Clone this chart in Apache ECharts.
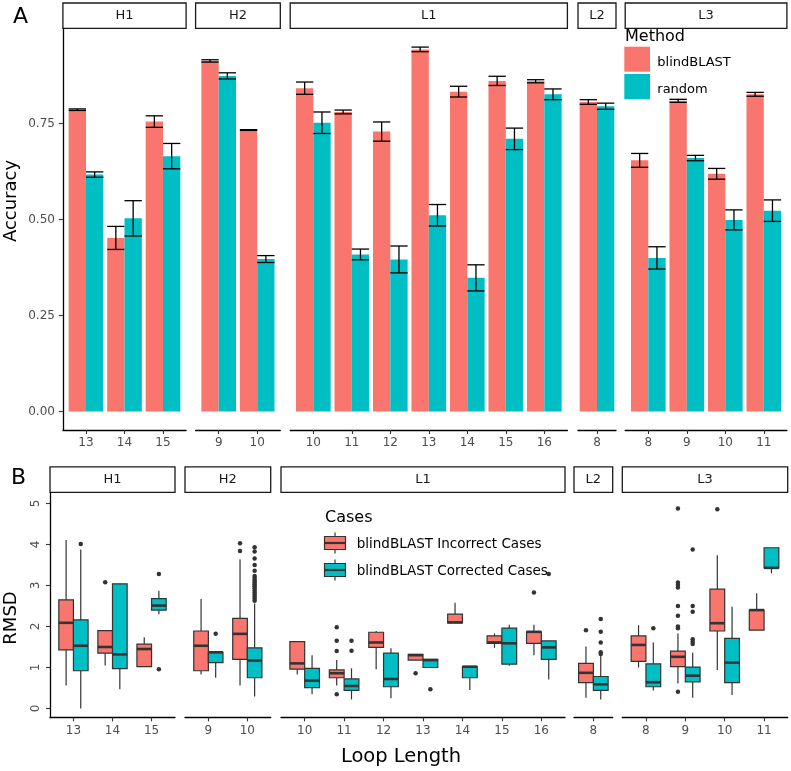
<!DOCTYPE html>
<html><head><meta charset="utf-8">
<script src="https://cdn.jsdelivr.net/npm/echarts@6/dist/echarts.min.js"></script>
<style>html,body{margin:0;padding:0;background:#fff}#c{width:791px;height:771px}</style>
</head><body><div id="c"></div>
<script>
// ---------- categories ----------
const facetNames = ['H1', 'H2', 'L1', 'L2', 'L3'];
const catsH1 = ['13', '14', '15'];
const catsH2 = ['9', '10'];
const catsL1 = ['10', '11', '12', '13', '14', '15', '16'];
const catsL2 = ['8'];
const catsL3 = ['8', '9', '10', '11'];

// ---------- panel A: accuracy (mean, error) ----------
const blindH1 = [0.786, 0.452, 0.755];  const blindH1Err = [0.002, 0.030, 0.015];
const randomH1 = [0.617, 0.503, 0.665]; const randomH1Err = [0.007, 0.046, 0.033];
const blindH2 = [0.913, 0.733];         const blindH2Err = [0.003, 0.001];
const randomH2 = [0.874, 0.397];        const randomH2Err = [0.008, 0.009];
const blindL1 = [0.842, 0.780, 0.729, 0.943, 0.833, 0.861, 0.860];
const blindL1Err = [0.016, 0.005, 0.025, 0.006, 0.014, 0.012, 0.004];
const randomL1 = [0.752, 0.409, 0.396, 0.511, 0.348, 0.710, 0.826];
const randomL1Err = [0.028, 0.014, 0.035, 0.028, 0.034, 0.028, 0.014];
const blindL2 = [0.806];  const blindL2Err = [0.006];
const randomL2 = [0.795]; const randomL2Err = [0.008];
const blindL3 = [0.654, 0.809, 0.619, 0.826];  const blindL3Err = [0.018, 0.004, 0.014, 0.005];
const randomL3 = [0.400, 0.660, 0.499, 0.523]; const randomL3Err = [0.029, 0.007, 0.026, 0.028];
const accTicks = [0, 0.25, 0.5, 0.75];

// ---------- panel B: RMSD boxplots [whiskerLow, q1, median, q3, whiskerHigh] ----------
const incH1 = [[0.56,1.43,2.09,2.65,4.11],[1.05,1.35,1.50,1.90,1.90],[1.02,1.02,1.45,1.57,1.74]];
const corH1 = [[0.00,0.92,1.53,2.16,3.88],[0.47,0.97,1.32,3.04,3.04],[2.30,2.40,2.51,2.68,2.87]];
const incH2 = [[0.83,0.92,1.53,1.89,2.67],[0.56,1.20,1.82,2.20,3.64]];
const corH2 = [[0.75,1.12,1.37,1.37,1.37],[0.29,0.75,1.17,1.48,2.56]];
const incL1 = [[0.83,0.96,1.10,1.63,1.63],[0.56,0.75,0.86,0.94,1.18],[0.96,1.49,1.61,1.86,1.89],
               [1.18,1.18,1.30,1.32,1.32],[2.09,2.09,2.10,2.30,2.58],[1.48,1.59,1.61,1.77,1.83],
               [1.30,1.59,1.87,1.87,2.04]];
const corL1 = [[0.35,0.51,0.68,0.98,1.30],[0.22,0.44,0.55,0.72,0.98],[0.25,0.53,0.72,1.35,1.47],
               [1.00,1.00,1.18,1.20,1.20],[0.45,0.75,1.02,1.02,1.02],[1.04,1.08,1.59,1.96,2.04],
               [0.71,1.20,1.49,1.65,1.65]];
const incL2 = [[0.26,0.63,0.87,1.10,1.51]];
const corL2 = [[0.22,0.44,0.59,0.78,1.30]];
const incL3 = [[1.00,1.15,1.55,1.77,2.03],[0.61,1.02,1.26,1.40,1.83],[0.94,1.89,2.08,2.91,3.74],[1.91,1.91,2.40,2.40,2.81]];
const corL3 = [[0.44,0.53,0.64,1.09,1.61],[0.26,0.65,0.80,1.01,1.36],[0.33,0.63,1.12,1.71,2.48],[3.30,3.43,3.43,3.92,3.92]];

// outliers [categoryIndex (1-based), value]
const outIncH1 = [[2,3.08]];
const outCorH1 = [[1,4.01],[3,3.28],[3,0.96]];
const outIncH2 = [[2,4.03],[2,3.84]];
const outCorH2 = [[1,1.82],[2,3.93],[2,3.83],[2,3.66],[2,3.50],[2,3.36],[2,3.23],[2,3.18],[2,3.13],[2,3.08],
                  [2,3.03],[2,2.98],[2,2.93],[2,2.88],[2,2.83],[2,2.78],[2,2.73],[2,2.68],[2,2.63]];
const outIncL1 = [[2,1.98],[2,1.65],[2,1.40],[2,0.35],[4,0.86],[7,2.83]];
const outCorL1 = [[2,1.65],[2,1.41],[4,0.47],[7,3.28]];
const outIncL2 = [[1,1.91]];
const outCorL2 = [[1,2.18],[1,1.87],[1,1.61],[1,1.37],[1,1.33]];
const outIncL3 = [[2,4.88],[2,3.07],[2,3.01],[2,2.95],[2,2.50],[2,2.26],[2,2.00],[2,1.96],[2,0.41],[3,4.86]];
const outCorL3 = [[1,1.96],[2,3.88],[2,2.50],[2,2.36],[2,1.69],[2,1.63],[2,1.57]];
const rmsdTicks = [0, 1, 2, 3, 4, 5];

// ---------- layout / style ----------
const PINK = '#F8766D', CYAN = '#00BFC4', DARK = '#333333', TICKC = '#4D4D4D';
const FONT = 'DejaVu Sans';
const cats = [catsH1, catsH2, catsL1, catsL2, catsL3];
const accB = [[blindH1, blindH1Err],[blindH2, blindH2Err],[blindL1, blindL1Err],[blindL2, blindL2Err],[blindL3, blindL3Err]];
const accR = [[randomH1, randomH1Err],[randomH2, randomH2Err],[randomL1, randomL1Err],[randomL2, randomL2Err],[randomL3, randomL3Err]];
const boxI = [incH1, incH2, incL1, incL2, incL3];
const boxC = [corH1, corH2, corL1, corL2, corL3];
const outI = [outIncH1, outIncH2, outIncL1, outIncL2, outIncL3];
const outC = [outCorH1, outCorH2, outCorL1, outCorL2, outCorL3];

// [left, width, xmin, xmax]
const layA = [[62.9,123.2,0.4,3.6],[195.6,84.7,0.4,2.6],[290.2,277.2,0.4,7.6],[578,38,0.5065,1.4935],[625.2,161.7,0.4,4.6]];
const layB = [[50,125,0.4,3.6],[185,85.7,0.4,2.6],[281,284,0.4,7.6],[574,38.7,0.509,1.491],[622.3,165.4,0.4,4.6]];
const A_TOP = 28.5, A_H = 401.5, A_YMIN = -0.0482, A_YMAX = 0.9974;
const B_TOP = 493, B_H = 224.3, B_YMIN = -0.215, B_YMAX = 5.256;

const grids = [], xAxes = [], yAxes = [], series = [], graphics = [];

function xAxisCfg(gi, lay, cs, margin) {
  const vals = cs.map((c, j) => j + 1);
  return {
    gridIndex: gi, type: 'value', min: lay[2], max: lay[3],
    axisLine: { show: true, onZero: false, lineStyle: { color: '#000', width: 1.3 } },
    axisTick: { show: true, customValues: vals, length: 4, lineStyle: { color: DARK, width: 1.1 } },
    axisLabel: { show: true, customValues: vals, formatter: v => cs[Math.round(v) - 1],
                 color: TICKC, fontSize: 12, fontFamily: FONT, margin: margin },
    splitLine: { show: false }
  };
}

function barRender(left, color) {
  return function (params, api) {
    const x = api.value(0), v = api.value(1), e = api.value(2);
    const w = 0.45;
    const x0 = left ? x - w : x, x1 = x0 + w, xc = x0 + w / 2;
    const pT = api.coord([x0, v]), pB = api.coord([x1, 0]);
    const eT = api.coord([xc, v + e]), eB = api.coord([xc, v - e]);
    const es = { stroke: '#000', lineWidth: 1.3 };
    return { type: 'group', children: [
      { type: 'rect', shape: { x: pT[0], y: pT[1], width: pB[0] - pT[0], height: pB[1] - pT[1] }, style: { fill: color } },
      { type: 'line', shape: { x1: eT[0], y1: eT[1], x2: eB[0], y2: eB[1] }, style: es },
      { type: 'line', shape: { x1: pT[0], y1: eT[1], x2: pB[0], y2: eT[1] }, style: es },
      { type: 'line', shape: { x1: pT[0], y1: eB[1], x2: pB[0], y2: eB[1] }, style: es }
    ]};
  };
}

function boxRender(left, color) {
  return function (params, api) {
    const x = api.value(0);
    const lo = api.value(1), q1 = api.value(2), md = api.value(3), q3 = api.value(4), hi = api.value(5);
    const w = 0.375;
    const x0 = left ? x - w : x, x1 = x0 + w, xc = x0 + w / 2;
    const a = api.coord([x0, q3]), b = api.coord([x1, q1]);
    const cx = api.coord([xc, 0])[0];
    const yHi = api.coord([xc, hi])[1], yLo = api.coord([xc, lo])[1], yMd = api.coord([xc, md])[1];
    const ls = { stroke: DARK, lineWidth: 1.2 };
    return { type: 'group', children: [
      { type: 'line', shape: { x1: cx, y1: yHi, x2: cx, y2: a[1] }, style: ls },
      { type: 'line', shape: { x1: cx, y1: b[1], x2: cx, y2: yLo }, style: ls },
      { type: 'rect', shape: { x: a[0], y: a[1], width: b[0] - a[0], height: b[1] - a[1] }, style: { fill: color, stroke: DARK, lineWidth: 1.2 } },
      { type: 'line', shape: { x1: a[0], y1: yMd, x2: b[0], y2: yMd }, style: { stroke: DARK, lineWidth: 2.6 } }
    ]};
  };
}

for (let i = 0; i < 5; i++) {
  const la = layA[i], lb = layB[i], cs = cats[i];
  // grids
  grids.push({ left: la[0], top: A_TOP, width: la[1], height: A_H, outerBoundsMode: 'none', containLabel: false });
  // axes A
  xAxes.push(xAxisCfg(i, la, cs, 7));
  yAxes.push(i === 0 ? {
    gridIndex: i, type: 'value', min: A_YMIN, max: A_YMAX,
    axisLine: { show: true, onZero: false, lineStyle: { color: '#000', width: 1.3 } },
    axisTick: { show: true, customValues: accTicks, length: 4, lineStyle: { color: DARK, width: 1.1 } },
    axisLabel: { show: true, customValues: accTicks, formatter: v => v.toFixed(2), color: TICKC, fontSize: 12, fontFamily: FONT, margin: 8 },
    splitLine: { show: false }
  } : { gridIndex: i, type: 'value', min: A_YMIN, max: A_YMAX, show: false, splitLine: { show: false } });
  // bars
  series.push({ type: 'custom', name: 'blindBLAST', xAxisIndex: i, yAxisIndex: i, itemStyle: { color: PINK },
    renderItem: barRender(true, PINK), data: accB[i][0].map((v, j) => [j + 1, v, accB[i][1][j]]) });
  series.push({ type: 'custom', name: 'random', xAxisIndex: i, yAxisIndex: i, itemStyle: { color: CYAN },
    renderItem: barRender(false, CYAN), data: accR[i][0].map((v, j) => [j + 1, v, accR[i][1][j]]) });
  // strip A
  graphics.push({ type: 'rect', shape: { x: la[0], y: 3, width: la[1], height: 25.3 },
    style: { fill: '#fff', stroke: '#1a1a1a', lineWidth: 1.3 } });
  graphics.push({ type: 'text', x: la[0] + la[1] / 2, y: 15.8,
    style: { text: facetNames[i], textAlign: 'center', textVerticalAlign: 'middle', fill: '#1a1a1a', font: '13px "' + FONT + '"' } });
}
for (let i = 0; i < 5; i++) {
  const lb = layB[i], cs = cats[i], gi = 5 + i;
  grids.push({ left: lb[0], top: B_TOP, width: lb[1], height: B_H, outerBoundsMode: 'none', containLabel: false });
  xAxes.push(xAxisCfg(gi, lb, cs, 8));
  yAxes.push(i === 0 ? {
    gridIndex: gi, type: 'value', min: B_YMIN, max: B_YMAX,
    axisLine: { show: true, onZero: false, lineStyle: { color: '#000', width: 1.3 } },
    axisTick: { show: true, customValues: rmsdTicks, length: 4, lineStyle: { color: DARK, width: 1.1 } },
    axisLabel: { show: true, customValues: rmsdTicks, rotate: 90, color: TICKC, fontSize: 12, fontFamily: FONT, margin: 8 },
    splitLine: { show: false }
  } : { gridIndex: gi, type: 'value', min: B_YMIN, max: B_YMAX, show: false, splitLine: { show: false } });
  series.push({ type: 'custom', name: 'blindBLAST Incorrect Cases', xAxisIndex: gi, yAxisIndex: gi, itemStyle: { color: PINK },
    renderItem: boxRender(true, PINK), data: boxI[i].map((s, j) => [j + 1].concat(s)) });
  series.push({ type: 'custom', name: 'blindBLAST Corrected Cases', xAxisIndex: gi, yAxisIndex: gi, itemStyle: { color: CYAN },
    renderItem: boxRender(false, CYAN), data: boxC[i].map((s, j) => [j + 1].concat(s)) });
  series.push({ type: 'scatter', xAxisIndex: gi, yAxisIndex: gi, symbolSize: 4.5, itemStyle: { color: DARK, opacity: 1 },
    data: outI[i].map(p => [p[0] - 0.1875, p[1]]) });
  series.push({ type: 'scatter', xAxisIndex: gi, yAxisIndex: gi, symbolSize: 4.5, itemStyle: { color: DARK, opacity: 1 },
    data: outC[i].map(p => [p[0] + 0.1875, p[1]]) });
  graphics.push({ type: 'rect', shape: { x: lb[0], y: 466.8, width: lb[1], height: 25.5 },
    style: { fill: '#fff', stroke: '#1a1a1a', lineWidth: 1.3 } });
  graphics.push({ type: 'text', x: lb[0] + lb[1] / 2, y: 479.7,
    style: { text: facetNames[i], textAlign: 'center', textVerticalAlign: 'middle', fill: '#1a1a1a', font: '13px "' + FONT + '"' } });
}

// panel labels and axis titles
graphics.push({ type: 'text', x: 20.5, y: 17, style: { text: 'A', textAlign: 'center', textVerticalAlign: 'middle', fill: '#000', font: '22px "' + FONT + '"' } });
graphics.push({ type: 'text', x: 18.5, y: 478.5, style: { text: 'B', textAlign: 'center', textVerticalAlign: 'middle', fill: '#000', font: '22px "' + FONT + '"' } });
graphics.push({ type: 'text', x: 11, y: 201, rotation: Math.PI / 2, style: { text: 'Accuracy', textAlign: 'center', textVerticalAlign: 'middle', fill: '#000', font: '18px "' + FONT + '"' } });
graphics.push({ type: 'text', x: 11, y: 618, rotation: Math.PI / 2, style: { text: 'RMSD', textAlign: 'center', textVerticalAlign: 'middle', fill: '#000', font: '18px "' + FONT + '"' } });
graphics.push({ type: 'text', x: 401, y: 757, style: { text: 'Loop Length', textAlign: 'center', textVerticalAlign: 'middle', fill: '#000', font: '19.5px "' + FONT + '"' } });

// legend A (Method)
graphics.push({ type: 'text', x: 625, y: 37, style: { text: 'Method', textAlign: 'left', textVerticalAlign: 'middle', fill: '#000', font: '16px "' + FONT + '"' } });
graphics.push({ type: 'rect', shape: { x: 624.3, y: 46.7, width: 25.7, height: 25 }, style: { fill: PINK } });
graphics.push({ type: 'rect', shape: { x: 624.3, y: 74, width: 25.7, height: 25.3 }, style: { fill: CYAN } });
graphics.push({ type: 'text', x: 657.3, y: 62.7, style: { text: 'blindBLAST', textAlign: 'left', textVerticalAlign: 'middle', fill: '#000', font: '13px "' + FONT + '"' } });
graphics.push({ type: 'text', x: 657.3, y: 90, style: { text: 'random', textAlign: 'left', textVerticalAlign: 'middle', fill: '#000', font: '13px "' + FONT + '"' } });

// legend B (Cases)
graphics.push({ type: 'text', x: 325, y: 517.5, style: { text: 'Cases', textAlign: 'left', textVerticalAlign: 'middle', fill: '#000', font: '16px "' + FONT + '"' } });
[[PINK, 543, 'blindBLAST Incorrect Cases', 544], [CYAN, 570, 'blindBLAST Corrected Cases', 571.7]].forEach(k => {
  const c = k[1];
  graphics.push({ type: 'line', shape: { x1: 335, y1: c - 10.5, x2: 335, y2: c + 10.5 }, style: { stroke: DARK, lineWidth: 1.2 } });
  graphics.push({ type: 'rect', shape: { x: 324.5, y: c - 6.5, width: 21, height: 13 }, style: { fill: k[0], stroke: DARK, lineWidth: 1.2 } });
  graphics.push({ type: 'line', shape: { x1: 324.5, y1: c, x2: 345.5, y2: c }, style: { stroke: DARK, lineWidth: 2.2 } });
  graphics.push({ type: 'text', x: 356.7, y: k[3], style: { text: k[2], textAlign: 'left', textVerticalAlign: 'middle', fill: '#000', font: '13.5px "' + FONT + '"' } });
});

const chart = echarts.init(document.getElementById('c'), null, { renderer: 'canvas' });
chart.setOption({
  animation: false,
  backgroundColor: '#fff',
  grid: grids, xAxis: xAxes, yAxis: yAxes, series: series,
  graphic: { elements: graphics }
});
</script></body></html>
